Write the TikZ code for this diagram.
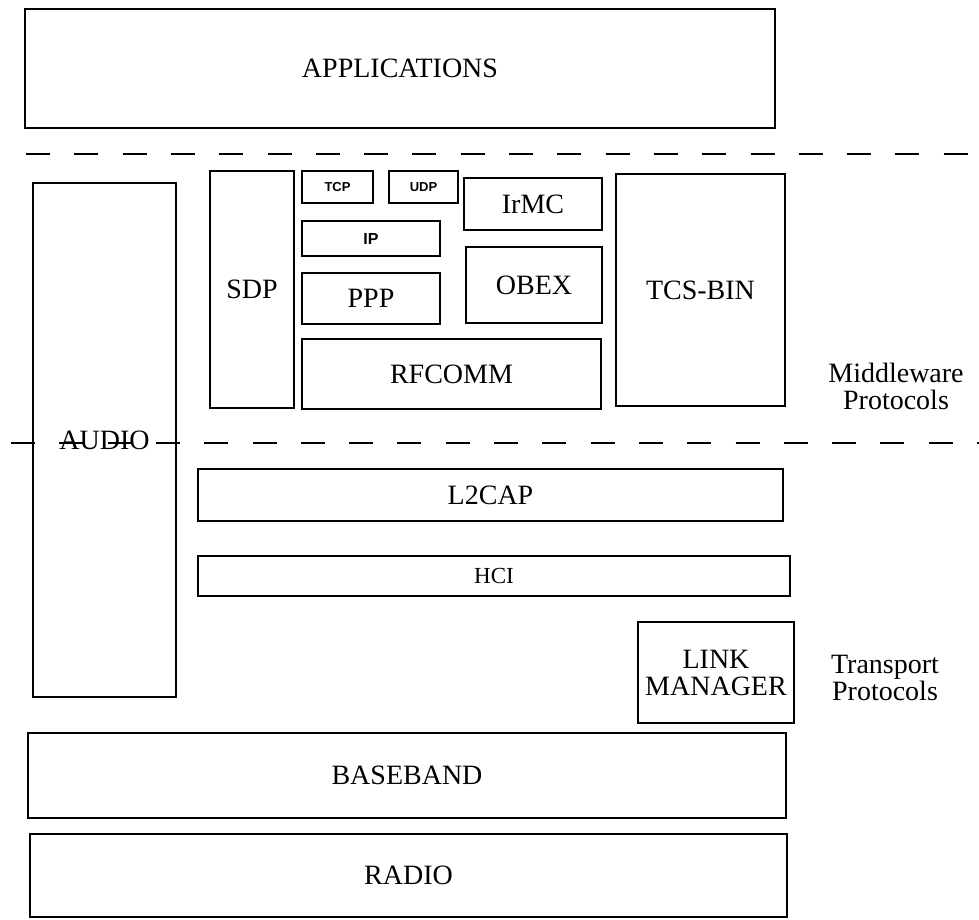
\documentclass[tikz,border=0pt]{standalone}
\usepackage{fontspec}
\setmainfont{Liberation Serif}
\setsansfont{Liberation Sans}
\usetikzlibrary{calc}

\tikzset{
    layer/.style={draw, line width=2.7pt, inner sep=0pt, align=center,
        font=\fontsize{28}{27}\selectfont},
    tinylayer/.style={layer, font=\sffamily\bfseries\fontsize{13}{14}\selectfont},
    divider/.style={line width=2.6pt, dash pattern=on 24pt off 24.3pt},
    sidetext/.style={align=center, font=\fontsize{28}{27}\selectfont}
}

\begin{document}
\begin{tikzpicture}[x=1pt,y=-1pt]
    \useasboundingbox (0,0) rectangle (979,919);

    % top of the stack
    \node[layer, minimum width=750pt, minimum height=119pt] (app) at (400,68.5) {APPLICATIONS};

    \coordinate (TopL) at (26,154);
    \coordinate (TopR) at (979,154);
    \draw[divider] (TopL) -- (TopR);

    % middleware protocols
    \node[layer, minimum width=143pt, minimum height=514pt] (audio) at (104.5,440) {AUDIO};
    \node[layer, minimum width=84pt, minimum height=237pt] (sdp) at (252,289.5) {SDP};
    \node[tinylayer, minimum width=71pt, minimum height=32pt] (tcp) at (337.5,187) {TCP};
    \node[tinylayer, minimum width=69pt, minimum height=32pt] (udp) at (423.5,187) {UDP};
    \node[tinylayer, minimum width=138pt, minimum height=35pt, font=\sffamily\bfseries\fontsize{16}{17}\selectfont] (ip) at (371,238.5) {IP};
    \node[layer, minimum width=138pt, minimum height=51pt] (ppp) at (371,298.5) {PPP};
    \node[layer, minimum width=138pt, minimum height=52pt] (irmc) at (533,204) {IrMC};
    \node[layer, minimum width=136pt, minimum height=76pt] (obex) at (534,285) {OBEX};
    \node[layer, minimum width=299pt, minimum height=70pt] (rfcomm) at (451.5,374) {RFCOMM};
    \node[layer, minimum width=169pt, minimum height=232pt] (tcs) at (700.5,290) {TCS-BIN};
    \node[sidetext] (mwlabel) at (896,386) {Middleware\\Protocols};

    \coordinate (MidL) at (11,443);
    \coordinate (MidR) at (979,443);
    \draw[divider] (MidL) -- (MidR);

    % transport protocols
    \node[layer, minimum width=585pt, minimum height=52pt] (l2cap) at (490.5,495) {L2CAP};
    \node[layer, minimum width=592pt, minimum height=40pt, font=\fontsize{23}{24}\selectfont] (hci) at (494,576) {HCI};
    \node[layer, minimum width=156pt, minimum height=101pt] (lmp) at (716,672.5) {LINK\\MANAGER};
    \node[sidetext] (tplabel) at (885,678) {Transport\\Protocols};
    \node[layer, minimum width=758pt, minimum height=85pt] (baseband) at (407,775.5) {BASEBAND};
    \node[layer, minimum width=757pt, minimum height=83pt] (radio) at (408.5,875.5) {RADIO};
\end{tikzpicture}
\end{document}
